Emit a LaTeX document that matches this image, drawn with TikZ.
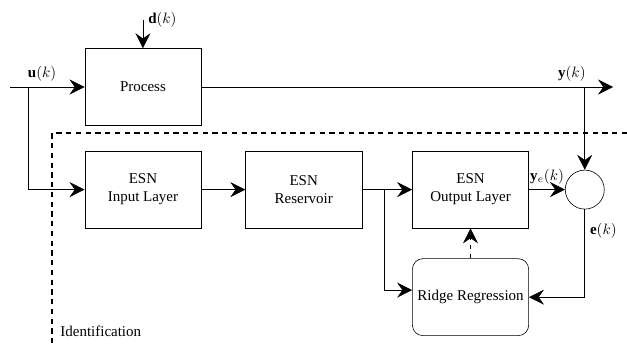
\documentclass[tikz,border=0pt]{standalone}
\usepackage{amsmath}
\usepackage{fontspec}
\setmainfont{Liberation Serif}
\usetikzlibrary{positioning, arrows.meta}
\tikzset{
    >={Stealth[length=10pt, width=10pt, inset=3.5pt]}, % large notched arrow heads
    line width=1.4pt, % thick lines everywhere
    block/.style={draw, minimum width=77.5pt, minimum height=51.3pt, align=center}, % plain boxes
    rblock/.style={block, rounded corners=7pt, inner xsep=1pt}, % the rounded box
    sumpoint/.style={draw, circle, minimum size=26pt, inner sep=0pt}, % comparison point
    idline/.style={dash pattern=on 3.5pt off 3pt, line width=1.2pt}, % border of the identification part
}

\begin{document}
\begin{tikzpicture}
    \useasboundingbox (0,0) rectangle (418pt,-230.7pt);
    % blocks
    \node[block] (process) at (95.3pt,-58pt) {Process};
    \node[block, below=16.7pt of process] (input) {ESN\\Input Layer};
    \node[block, right=29.3pt of input] (reservoir) {ESN\\Reservoir};
    \node[block, right=33.3pt of reservoir] (output) {ESN\\Output Layer};
    \node[sumpoint, right=24pt of output] (sum) {};
    \node[rblock, below=20pt of output] (ridge) {Ridge Regression};
    % free ends and branch points
    \coordinate (uin) at (6.7pt,-58pt);
    \coordinate (usplit) at (18.7pt,-58pt);
    \coordinate (din) at ([yshift=18.7pt]process.north);
    \coordinate (yout) at (408.7pt,-58pt);
    \coordinate (ysplit) at (sum |- process);
    \coordinate (rsplit) at ([xshift=14.5pt]reservoir.east);
    % identification part
    \coordinate (idcorner) at (34.7pt,-88.7pt);
    \coordinate (idright) at (418pt,-88.7pt);
    \coordinate (idbottom) at (34.7pt,-230.7pt);
    \draw[idline] (idright) -- (idcorner) -- (idbottom);
    \node[right] (idlabel) at (36.7pt,-220.7pt) {Identification};
    % signals
    \draw[->] (uin) -- node[above, pos=0.43] {$\mathbf{u}(k)$} (process);
    \draw[->] (usplit) |- (input);
    \draw[->] (din) node[right] {$\mathbf{d}(k)$} -- (process);
    \draw[->] (process) -- node[above, pos=0.9] {$\mathbf{y}(k)$} (yout);
    \draw[->] (ysplit) -- (sum);
    \draw[->] (input) -- (reservoir);
    \draw[->] (reservoir) -- (output);
    \draw[->] (rsplit) |- ([yshift=4.7pt]ridge.west);
    \draw[->] (output) -- node[above] {$\mathbf{y}_e(k)$} (sum);
    \draw[->] (sum) |- node[pos=0.12, right] {$\mathbf{e}(k)$} (ridge);
    \draw[->, dashed] (ridge) -- (output);
\end{tikzpicture}
\end{document}
